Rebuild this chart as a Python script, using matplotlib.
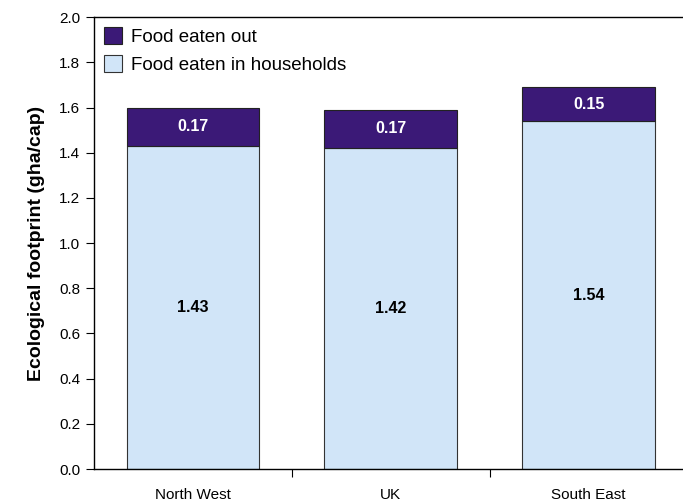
import matplotlib
matplotlib.use('Agg')
import matplotlib.pyplot as plt
import numpy as np

regions = ['North West', 'UK', 'South East']
households = [1.43, 1.42, 1.54]
eaten_out = [0.17, 0.17, 0.15]

plt.rcParams['font.family'] = ['Liberation Sans', 'DejaVu Sans']

fig = plt.figure(figsize=(6.83, 5.04), dpi=100)
ax = fig.add_axes([0.1376, 0.0694, 0.869, 0.8966])

x = np.arange(len(regions))
light = '#d1e5f8'
dark = '#3b1977'
b1 = ax.bar(x, households, width=0.67, color=light, edgecolor='#333333', linewidth=0.8,
            label='Food eaten in households')
b2 = ax.bar(x, eaten_out, width=0.67, bottom=households, color=dark, edgecolor='#222222',
            linewidth=0.8, label='Food eaten out')

for i in range(len(regions)):
    ax.text(x[i], households[i] / 2, f'{households[i]:.2f}', ha='center', va='center',
            fontsize=11.5, fontweight='bold', color='black')
    ax.text(x[i], households[i] + eaten_out[i] / 2, f'{eaten_out[i]:.2f}', ha='center',
            va='center', fontsize=11.5, fontweight='bold', color='white')

ax.set_xlim(-0.5, 2.5)
ax.set_ylim(0, 2.0)
ax.set_yticks(np.arange(0, 2.01, 0.2))
ax.set_yticklabels([f'{v:.1f}' for v in np.arange(0, 2.01, 0.2)], fontsize=11)
ax.set_xticks([0.5, 1.5], minor=False)
ax.set_xticklabels(['', ''])
ax.set_xticks(x, minor=True)
ax.set_xticklabels(regions, minor=True, fontsize=11)
ax.tick_params(axis='x', which='minor', length=0, pad=14)
ax.tick_params(axis='x', which='major', length=6, direction='out')
ax.tick_params(axis='y', length=6, direction='out', pad=4)

for s in ax.spines.values():
    s.set_color('black')
    s.set_linewidth(1.0)

ax.set_ylabel('Ecological footprint (gha/cap)', fontsize=14, fontweight='bold', labelpad=10)

ax.legend([b2, b1], ['Food eaten out', 'Food eaten in households'], loc='upper left',
          bbox_to_anchor=(0.0, 1.0), frameon=False, prop={'size': 13.5},
          handlelength=0.95, handleheight=0.95, borderaxespad=0.1, borderpad=0.45,
          labelspacing=0.5, handletextpad=0.45)

fig.savefig('out.png', dpi=100)
